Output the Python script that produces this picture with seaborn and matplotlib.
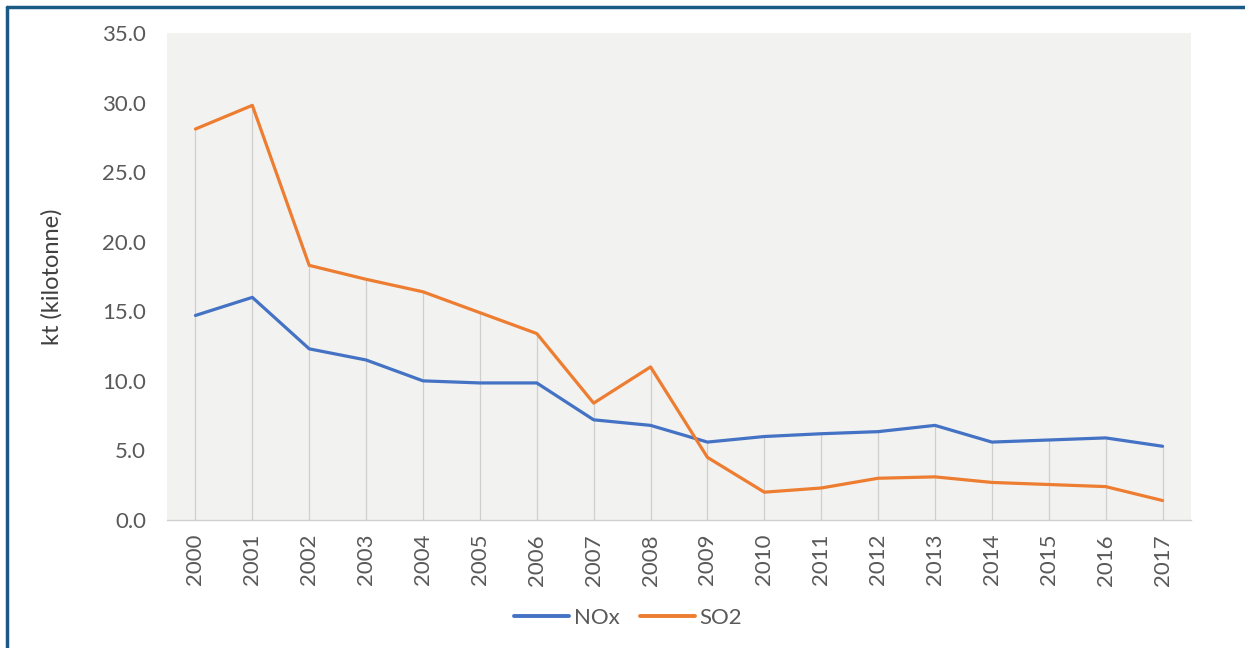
import numpy as np
import pandas as pd
import matplotlib
matplotlib.use("Agg")
import matplotlib.pyplot as plt
from matplotlib.lines import Line2D
import seaborn as sns

years = [str(y) for y in range(2000, 2018)]
nox = [14.7, 16.0, 12.3, 11.5, 10.0, 9.85, 9.85, 7.2, 6.8, 5.6,
       6.0, 6.2, 6.35, 6.8, 5.6, 5.75, 5.9, 5.3]
so2 = [28.1, 29.8, 18.3, 17.3, 16.4, 14.9, 13.4, 8.4, 11.0, 4.5,
       2.0, 2.3, 3.0, 3.1, 2.7, 2.55, 2.4, 1.4]
series_names = ["NOx", "SO2"]
colors = ["#4472c4", "#ed7d31"]
yticks = [0, 5, 10, 15, 20, 25, 30, 35]

sns.set_theme(style="white")
plt.rcParams["font.family"] = ["Lato", "DejaVu Sans"]

df = pd.DataFrame({
    "pos": list(range(len(years))) * 2,
    "value": nox + so2,
    "series": [series_names[0]] * len(years) + [series_names[1]] * len(years),
})

fig = plt.figure(figsize=(12.45, 6.48), dpi=100)
ax = fig.add_axes([167 / 1245, 1 - 520 / 648, (1191 - 167) / 1245, (520 - 33) / 648])
ax.set_facecolor("#f2f2f0")

# drop lines from the higher series down to the axis
pos = np.arange(len(years))
ax.vlines(pos, 0, np.maximum(nox, so2), color="#cfcfcf", lw=0.9, zorder=1)

sns.lineplot(data=df, x="pos", y="value", hue="series", palette=colors,
             linewidth=2.3, ax=ax, legend=False, zorder=3)

ax.set_xlim(-0.5, len(years) - 0.5)
ax.set_ylim(0, 35)
ax.set_yticks(yticks)
ax.set_yticklabels([f"{v:.1f}" for v in yticks], fontsize=16, color="#595959")
ax.set_xticks(pos)
ax.set_xticklabels(years, rotation=90, fontsize=16, color="#595959")
ax.set_xticks(np.arange(-0.5, len(years), 1.0), minor=True)
ax.tick_params(axis="x", which="major", length=0, pad=10)
ax.tick_params(axis="x", which="minor", length=5, color="#d0d0d0", width=1)
ax.tick_params(axis="y", length=0, pad=15)

for side in ["top", "right", "left"]:
    ax.spines[side].set_visible(False)
ax.spines["bottom"].set_color("#d0d0d0")
ax.spines["bottom"].set_linewidth(1)
ax.set_xlabel("")
ax.set_ylabel("kt (kilotonne)", fontsize=17, color="#404040")
ax.yaxis.set_label_coords(-0.102, 0.5)

handles = [Line2D([0], [0], color=c, lw=2.8) for c in colors]
fig.legend(handles, series_names, loc="center", bbox_to_anchor=(628 / 1245, 1 - 618 / 648),
           ncol=2, frameon=False, fontsize=16, handlelength=2.5, handletextpad=0.2,
           columnspacing=0.9, labelcolor="#595959")

# outer frame on the left and top edges
fig.add_artist(Line2D([7 / 1245, 7 / 1245], [0, 1 - 7 / 648], transform=fig.transFigure,
                      color="#1b5a86", lw=2.5))
fig.add_artist(Line2D([7 / 1245, 1], [1 - 7 / 648, 1 - 7 / 648], transform=fig.transFigure,
                      color="#1b5a86", lw=2.5))

fig.savefig("out.png", dpi=100, facecolor="white")
